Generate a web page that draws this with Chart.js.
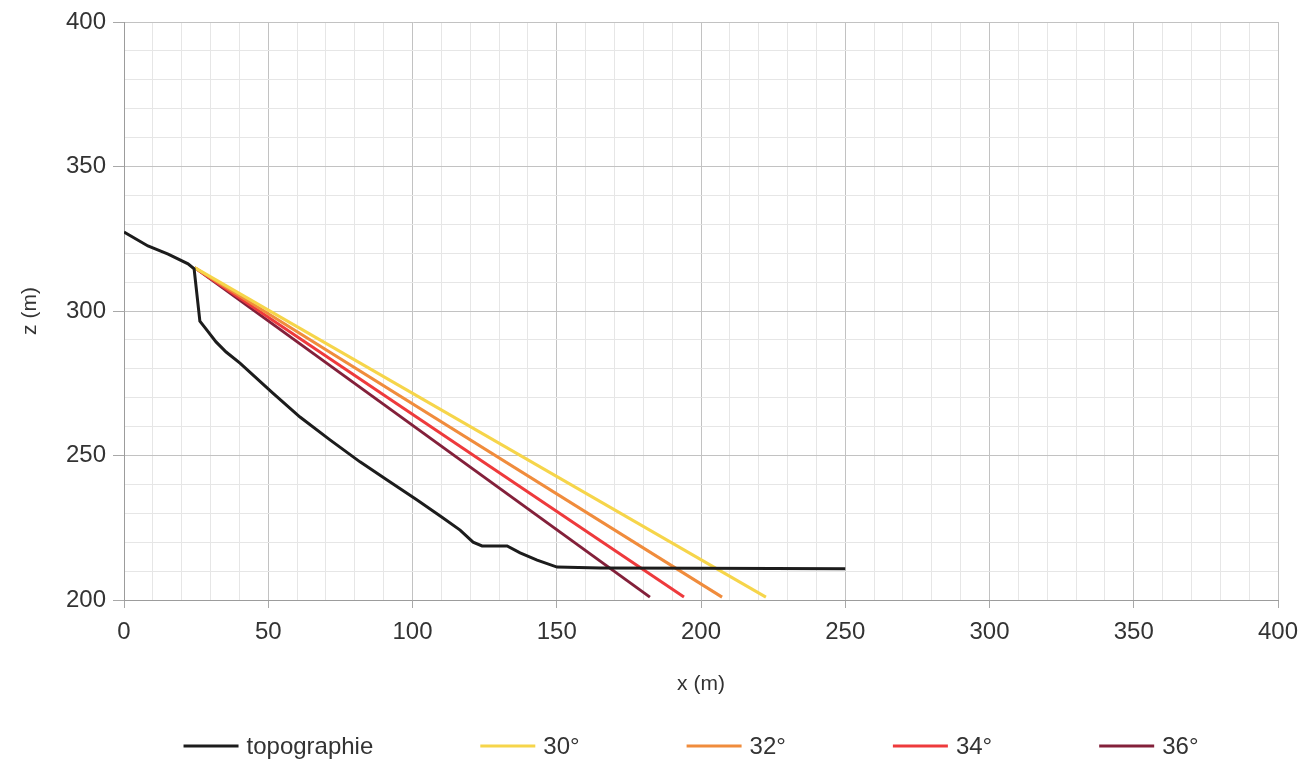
<!DOCTYPE html>
<html>
<head>
<meta charset="utf-8">
<script src="https://cdn.jsdelivr.net/npm/chart.js@4/dist/chart.umd.min.js"></script>
<style>
  body { margin: 0; background: #fff; }
  #wrap { width: 1304px; height: 762px; position: relative; }
</style>
</head>
<body>
<div id="wrap"><canvas id="myChart"></canvas></div>
<script>
// topography profile (x, z in m)
var topoX = [0, 8.3, 15.3, 22.2, 24.3, 26.3, 28.4, 31.9, 35.4, 40.2, 51.6, 61, 71.4, 81.8, 91.2, 101.6, 110.6, 116.5, 121, 124.1, 132.8, 137.3, 143.2, 150.1, 165, 200, 250];
var topoZ = [327.3, 322.5, 319.7, 316.3, 314.6, 296.5, 293.8, 289.3, 285.8, 282, 271.6, 263.3, 255.4, 247.8, 241.5, 234.6, 228.4, 224.2, 220, 218.7, 218.7, 216.3, 213.8, 211.4, 211.1, 211, 210.8];

// runout lines for each angle
var angleLabels = ['30°', '32°', '34°', '36°'];
var angleColors = ['#f6d54a', '#f08c3c', '#ee3a3c', '#83203a'];
var startX = 24.5, startZ = 315;
var endX = [222.5, 207.3, 194.1, 182.3];
var endZ = [201, 201, 201, 201];

var xTicks = [0, 50, 100, 150, 200, 250, 300, 350, 400];
var zTicks = [200, 250, 300, 350, 400];

var FONT = '"Liberation Sans", Arial, sans-serif';

var datasets = [{
    label: 'topographie',
    data: topoX.map(function (x, i) { return { x: x, y: topoZ[i] }; }),
    borderColor: '#1c1c1c',
    borderWidth: 3,
    pointRadius: 0,
    tension: 0
}];
angleLabels.forEach(function (lab, i) {
    datasets.push({
        label: lab,
        data: [{ x: startX, y: startZ }, { x: endX[i], y: endZ[i] }],
        borderColor: angleColors[i],
        borderWidth: 3,
        pointRadius: 0
    });
});

// legend drawn by hand so the wide spacing of the original can be kept
var bottomLegend = {
    id: 'bottomLegend',
    afterDraw: function (chart) {
        var c = chart.ctx;
        var y = 746, lineLen = 55, gap = 8, spacing = 107;
        c.save();
        c.font = '24px ' + FONT;
        c.textBaseline = 'middle';
        c.textAlign = 'left';
        var items = chart.data.datasets.map(function (d) {
            return { text: d.label, color: d.borderColor, w: lineLen + gap + c.measureText(d.label).width };
        });
        var total = items.reduce(function (s, it) { return s + it.w; }, 0) + spacing * (items.length - 1);
        var x = 691 - total / 2;
        items.forEach(function (it) {
            c.strokeStyle = it.color;
            c.lineWidth = 3;
            c.beginPath();
            c.moveTo(x, y);
            c.lineTo(x + lineLen, y);
            c.stroke();
            c.fillStyle = '#333';
            c.fillText(it.text, x + lineLen + gap, y + 1);
            x += it.w + spacing;
        });
        c.restore();
    }
};

function isMajor(v, list) { return list.indexOf(v) !== -1; }

var ctx = document.getElementById('myChart').getContext('2d');
var myChart = new Chart(ctx, {
    type: 'line',
    data: { datasets: datasets },
    plugins: [bottomLegend],
    options: {
        responsive: true,
        maintainAspectRatio: false,
        animation: false,
        layout: { padding: { top: 22, right: 26, bottom: 52, left: 0 } },
        plugins: {
            legend: { display: false },
            tooltip: { enabled: false }
        },
        scales: {
            x: {
                type: 'linear',
                min: 0,
                max: 400,
                afterFit: function (s) {
                    s.height = 110;
                    s.paddingRight = 0;
                    s.paddingLeft = 0;
                },
                ticks: {
                    stepSize: 10,
                    autoSkip: false,
                    maxRotation: 0,
                    padding: 10,
                    color: '#333',
                    font: { family: FONT, size: 24 },
                    callback: function (v) { return isMajor(v, xTicks) ? v : ''; }
                },
                grid: {
                    color: function (c) { return isMajor(c.tick.value, xTicks) ? '#c2c2c2' : '#e6e6e6'; },
                    tickColor: function (c) { return isMajor(c.tick.value, xTicks) ? '#a8a8a8' : 'rgba(0,0,0,0)'; },
                    tickLength: 8
                },
                border: { color: '#9c9c9c' },
                title: {
                    display: true,
                    text: 'x (m)',
                    color: '#333',
                    padding: { top: 0, bottom: 13 },
                    font: { family: FONT, size: 21 }
                }
            },
            y: {
                min: 200,
                max: 400,
                afterFit: function (s) { s.width = 124; },
                ticks: {
                    stepSize: 10,
                    autoSkip: false,
                    padding: 7,
                    color: '#333',
                    font: { family: FONT, size: 24 },
                    callback: function (v) { return isMajor(v, zTicks) ? v : ''; }
                },
                grid: {
                    color: function (c) { return isMajor(c.tick.value, zTicks) ? '#c2c2c2' : '#e6e6e6'; },
                    tickColor: function (c) { return isMajor(c.tick.value, zTicks) ? '#a8a8a8' : 'rgba(0,0,0,0)'; },
                    tickLength: 11
                },
                border: { color: '#9c9c9c' },
                title: {
                    display: true,
                    text: 'z (m)',
                    color: '#333',
                    padding: { top: 18, bottom: 0 },
                    font: { family: FONT, size: 21 }
                }
            }
        }
    }
});
</script>
</body>
</html>
